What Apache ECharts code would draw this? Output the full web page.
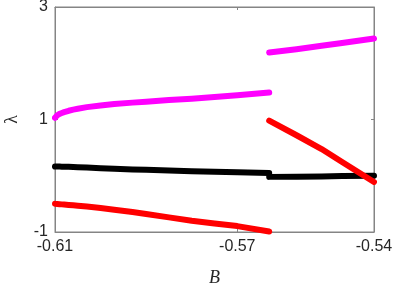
<!DOCTYPE html>
<html><head><meta charset="utf-8">
<script src="https://cdn.jsdelivr.net/npm/echarts@6/dist/echarts.min.js"></script>
<style>html,body{margin:0;padding:0;background:#fff}#c{width:399px;height:288px}</style>
</head><body><div id="c"></div>
<script>
// Left segment (before the jump)
const bLeft = [-0.61, -0.6098, -0.6095, -0.609, -0.6085, -0.608, -0.607, -0.606, -0.605, -0.603, -0.60, -0.597, -0.593, -0.59, -0.585, -0.58, -0.575, -0.57, -0.563];
const magentaLeft = [1.03, 1.055, 1.075, 1.10, 1.115, 1.13, 1.155, 1.175, 1.19, 1.22, 1.25, 1.275, 1.30, 1.315, 1.345, 1.37, 1.40, 1.43, 1.48];
const blackLeft   = [0.165, 0.165, 0.164, 0.163, 0.162, 0.161, 0.158, 0.155, 0.152, 0.145, 0.135, 0.125, 0.113, 0.105, 0.093, 0.082, 0.072, 0.062, 0.047];
const redLeft     = [-0.50, -0.501, -0.503, -0.506, -0.509, -0.512, -0.519, -0.526, -0.533, -0.548, -0.575, -0.605, -0.645, -0.68, -0.74, -0.80, -0.85, -0.895, -0.99];
// Right segment (after the jump)
const bRight = [-0.563, -0.557, -0.5515, -0.547, -0.54];
const magentaRight = [2.19, 2.25, 2.31, 2.36, 2.44];
const blackRight   = [-0.02, -0.016, -0.012, -0.006, 0.0];
const redRight     = [0.98, 0.72, 0.475, 0.245, -0.11];
// Axis ticks
const xTicks = [-0.61, -0.57, -0.54];
const yTicks = [-1, 1, 3];

const pair = (xs, ys) => xs.map((x, i) => [x, ys[i]]);
const font = 'Liberation Sans, Arial, sans-serif';
const axisGray = '#858585';
const line = (data, color) => ({
  type: 'line', data, showSymbol: false, symbol: 'none', smooth: false,
  lineStyle: { color, width: 6, cap: 'round', join: 'round' }, silent: true, animation: false
});

const chart = echarts.init(document.getElementById('c'), null, { renderer: 'canvas' });
chart.setOption({
  animation: false,
  grid: { left: 55, right: 25, top: 7, bottom: 56, show: true, borderColor: axisGray, borderWidth: 1, containLabel: false, outerBoundsMode: 'none' },
  xAxis: [{
    type: 'value', min: -0.61, max: -0.54, position: 'bottom',
    name: 'B', nameLocation: 'middle', nameGap: 37,
    nameTextStyle: { fontFamily: 'Liberation Serif, DejaVu Serif, serif', fontStyle: 'italic', fontSize: 18, color: '#262626' },
    axisLine: { show: true, onZero: false, lineStyle: { color: axisGray } },
    axisTick: { show: true, inside: true, length: 3, customValues: xTicks, lineStyle: { color: axisGray } },
    axisLabel: { customValues: xTicks, formatter: v => v.toFixed(2), fontFamily: font, fontSize: 16, color: '#262626', margin: 7 },
    splitLine: { show: false }
  }, {
    type: 'value', min: -0.61, max: -0.54, position: 'top',
    axisLine: { show: true, onZero: false, lineStyle: { color: axisGray } },
    axisTick: { show: true, inside: true, length: 3, customValues: xTicks, lineStyle: { color: axisGray } },
    axisLabel: { show: false }, splitLine: { show: false }
  }],
  yAxis: [{
    type: 'value', min: -1, max: 3, interval: 2, position: 'left',
    name: 'λ', nameLocation: 'middle', nameGap: 34, nameRotate: 90,
    nameTextStyle: { fontFamily: 'Liberation Serif, DejaVu Serif, serif', fontSize: 18, color: '#262626' },
    axisLine: { show: true, onZero: false, lineStyle: { color: axisGray } },
    axisTick: { show: true, inside: true, length: 3, lineStyle: { color: axisGray } },
    axisLabel: { fontFamily: font, fontSize: 16, color: '#262626', margin: 7 },
    splitLine: { show: false }
  }, {
    type: 'value', min: -1, max: 3, interval: 2, position: 'right',
    axisLine: { show: true, onZero: false, lineStyle: { color: axisGray } },
    axisTick: { show: true, inside: true, length: 3, lineStyle: { color: axisGray } },
    axisLabel: { show: false }, splitLine: { show: false }
  }],
  series: [
    line(pair(bLeft, redLeft), '#ff0000'),
    line(pair(bLeft, blackLeft), '#000000'),
    line(pair(bLeft, magentaLeft), '#ff00ff'),
    line(pair(bRight, blackRight), '#000000'),
    line(pair(bRight, magentaRight), '#ff00ff'),
    line(pair(bRight, redRight), '#ff0000')
  ]
});
</script></body></html>
